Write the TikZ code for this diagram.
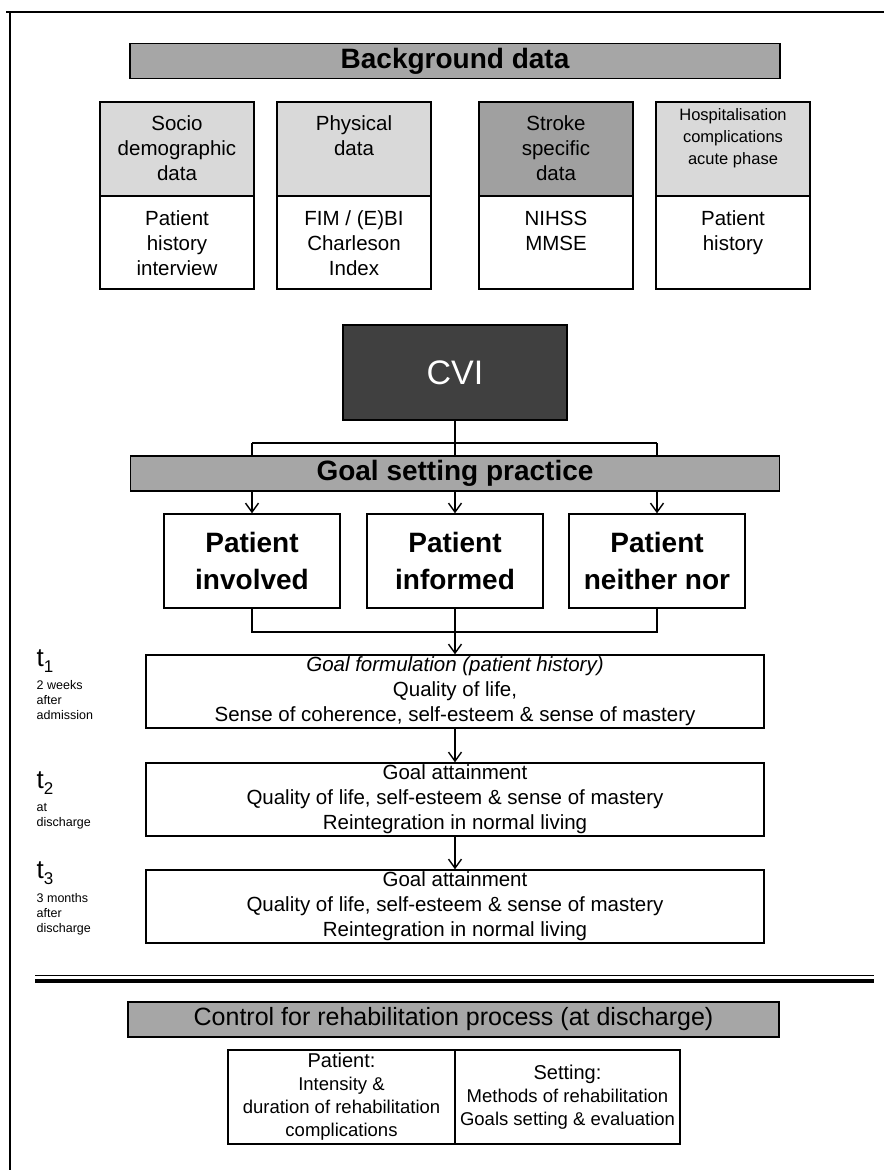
\documentclass[tikz,border=0pt]{standalone}
\usepackage{fontspec}
\setmainfont{Liberation Sans}
\usetikzlibrary{arrows.meta, positioning}
\definecolor{bargray}{HTML}{A6A6A6}
\definecolor{headgray}{HTML}{D9D9D9}
\definecolor{strokegray}{HTML}{A0A0A0}
\definecolor{cvigray}{HTML}{404040}
\newcommand{\setfs}[2]{\fontsize{#1}{#2}\selectfont}
\newcommand{\tmark}[1]{t\raisebox{-0.22em}{\setfs{17}{17}#1}}

\begin{document}
\begin{tikzpicture}[x=1pt, y=-1pt, line width=1.4pt,
  bar/.style={draw, fill=bargray, minimum width=650, minimum height=35, inner sep=0pt},
  head/.style={draw, fill=headgray, minimum width=154, minimum height=94, inner sep=0pt},
  body/.style={draw, fill=white, minimum width=154, minimum height=93, inner sep=0pt},
  txt/.style={anchor=north, align=center, inner sep=0pt, font=\setfs{20.5}{25}},
  choice/.style={draw, minimum width=176, minimum height=94, align=center, font=\setfs{28}{37}\bfseries},
  phase/.style={draw, minimum width=618, minimum height=73, align=center, inner sep=0pt, font=\setfs{20.5}{25}},
  cell/.style={draw, minimum height=94, align=center, inner sep=0pt, font=\setfs{18.5}{23}},
  tlabel/.style={anchor=west, inner sep=0pt, font=\setfs{26}{28}},
  tnote/.style={anchor=north west, align=left, inner sep=0pt, font=\setfs{12.5}{15}},
  arr/.style={-{Straight Barb[length=9pt, width=13pt]}}
]
\useasboundingbox (0,0) rectangle (884,1170);
\draw (6,12) -- (884,12);
\draw (10,12) -- (10,1170);

\node[bar, font=\setfs{28}{30}\bfseries] (bg) at (455,61) {Background data};

\node[head] (sh) at (177,149) {};
\node[body] (sb) at (177,242.5) {};
\node[head] (ph) at (354,149) {};
\node[body] (pb) at (354,242.5) {};
\node[head, fill=strokegray] (kh) at (556,149) {};
\node[body] (kb) at (556,242.5) {};
\node[head] (hh) at (733,149) {};
\node[body] (hb) at (733,242.5) {};

\node[txt, below=14pt of sh.north] (shtxt) {Socio\\demographic\\data};
\node[txt, below=14pt of ph.north] (phtxt) {Physical\\data};
\node[txt, below=14pt of kh.north] (khtxt) {Stroke\\specific\\data};
\node[txt, below=7pt of hh.north, font=\setfs{16.5}{22}] (hhtxt) {Hospitalisation\\complications\\acute phase};
\node[txt, below=15pt of sb.north] (sbtxt) {Patient\\history\\interview};
\node[txt, below=15pt of pb.north] (pbtxt) {FIM / (E)BI\\Charleson\\Index};
\node[txt, below=15pt of kb.north] (kbtxt) {NIHSS\\MMSE};
\node[txt, below=15pt of hb.north] (hbtxt) {Patient\\history};

\node[draw, fill=cvigray, minimum width=224, minimum height=95, text=white, font=\setfs{34}{36}] (cvi) at (455,372.5) {CVI};

\node[choice] (inv) at (252,561) {Patient\\involved};
\node[choice] (inf) at (455,561) {Patient\\informed};
\node[choice] (nei) at (657,561) {Patient\\neither nor};

\coordinate (split) at (455,443);
\draw (cvi.south) -- (split);
\draw (inv.north |- split) -- (nei.north |- split);
\draw[arr] (inv.north |- split) -- (inv.north);
\draw[arr] (split) -- (inf.north);
\draw[arr] (nei.north |- split) -- (nei.north);

\node[bar, minimum width=649, font=\setfs{28}{30}\bfseries] (gsp) at (455,473.5) {Goal setting practice};

\node[phase] (form) at (455,691.5) {\textit{Goal formulation (patient history)}\\Quality of life,\\Sense of coherence, self-esteem \& sense of mastery};
\node[phase] (dis) at (455,799.5) {Goal attainment\\Quality of life, self-esteem \& sense of mastery\\Reintegration in normal living};
\node[phase] (fol) at (455,906.5) {Goal attainment\\Quality of life, self-esteem \& sense of mastery\\Reintegration in normal living};

\coordinate (join) at (455,632);
\draw (inv.south) -- (inv.south |- join) -- (nei.south |- join) -- (nei.south);
\draw[arr] (inf.south) -- (form.north);
\draw[arr] (form) -- (dis);
\draw[arr] (dis) -- (fol);

\node[tlabel] (t1) at (36,661) {\tmark{1}};
\node[tnote] (t1note) at (36,680) {2 weeks\\after\\admission};
\node[tlabel] (t2) at (36,783) {\tmark{2}};
\node[tnote] (t2note) at (36,803) {at\\discharge};
\node[tlabel] (t3) at (36,873) {\tmark{3}};
\node[tnote] (t3note) at (36,893) {3 months\\after\\discharge};

\draw[line width=1pt] (35,975.5) -- (874,975.5);
\draw[line width=4pt] (35,980.5) -- (874,980.5);

\node[bar, minimum width=651, font=\setfs{25}{27}] (ctl) at (453.5,1019.5) {Control for rehabilitation process (at discharge)};

\node[cell, minimum width=227] (pat) at (341.5,1097) {{\setfs{20}{23}Patient:}\\Intensity \&\\duration of rehabilitation\\complications};
\node[cell, minimum width=225] (set) at (567.5,1097) {{\setfs{20}{23}Setting:}\\Methods of rehabilitation\\Goals setting \& evaluation};
\end{tikzpicture}
\end{document}
